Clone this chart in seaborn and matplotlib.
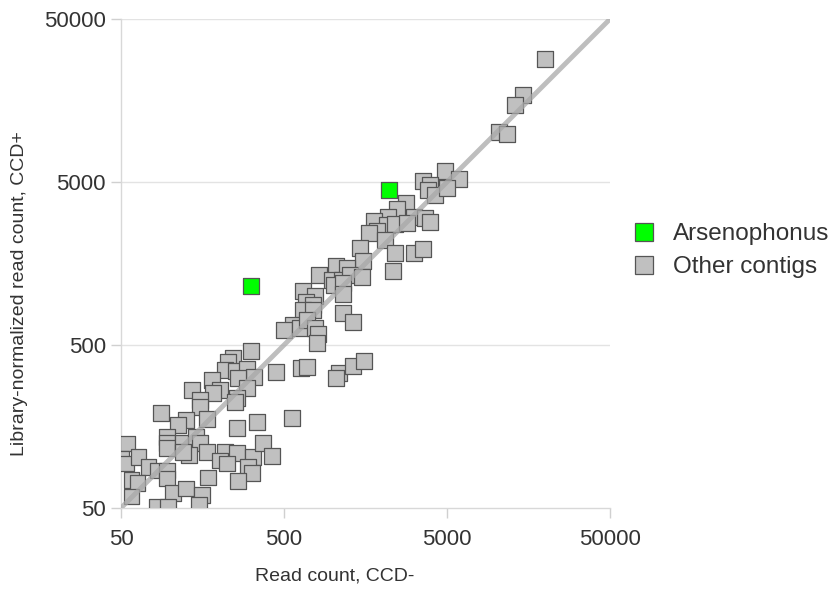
"""
Scatter of per-contig read counts, CCD- vs CCD+ (log-log).
"""
import seaborn as sns
import pandas as pd
import matplotlib.pyplot as plt
from matplotlib.ticker import FixedLocator, NullLocator

# Read counts, CCD- (x) and library-normalized read counts, CCD+ (y).
other_x = [20000, 14600, 13100, 10400, 11700, 4860, 5930, 3560, 3930, 3820,
           4220, 5000, 2800, 2470, 2170, 1780, 2140, 2400, 3140, 3660,
           3930, 2840, 1860, 1660, 2080, 2400, 3140, 3560, 1460, 1530,
           2330, 1040, 1220, 820, 985, 1135, 1270, 1510, 1010, 1150,
           1150, 654, 775, 682, 754, 654, 754, 1150, 1330, 568,
           500, 627, 692, 775, 809, 797, 447, 636, 692, 1087,
           1042, 1330, 1550, 314, 243, 227, 217, 254, 296, 327,
           181, 261, 136, 202, 183, 296, 153, 258, 250, 153,
           88, 125, 112, 169, 258, 341, 560, 96, 96, 96,
           120, 144, 153, 131, 120, 169, 55, 50, 54, 64,
           74, 84, 96, 96, 58, 63, 58, 104, 125, 157,
           151, 83, 97, 171, 217, 258, 202, 223, 323, 372,
           422, 301, 318, 261]
other_y = [28400, 17100, 14800, 10100, 9840, 5840, 5220, 5070, 4790, 4470,
           4160, 4590, 3720, 3410, 3050, 2880, 2720, 2760, 3050, 3010,
           2840, 2800, 2500, 2430, 2200, 1830, 1830, 1940, 1970, 1640,
           1420, 1530, 1480, 1340, 1250, 1250, 1340, 1310, 1170, 1200,
           1030, 1070, 1000, 918, 880, 820, 820, 785, 692, 663,
           618, 636, 712, 636, 584, 514, 341, 361, 366, 337,
           314, 372, 399, 460, 416, 393, 351, 346, 356, 318,
           305, 314, 265, 265, 254, 272, 230, 237, 223, 208,
           191, 173, 161, 176, 155, 169, 178, 136, 125, 117,
           125, 136, 125, 106, 110, 110, 124, 100, 94, 103,
           89, 85, 85, 76, 74, 71, 59, 62, 66, 60,
           52, 51, 51, 77, 110, 109, 98, 94, 103, 125,
           104, 89, 82, 73]

arseno_x = [314, 2200]
arseno_y = [1150, 4470]

groups = ["Arsenophonus", "Other contigs"]
colors = {"Arsenophonus": "#00ff00", "Other contigs": "#c0c0c0"}

ticks = [50, 500, 5000, 50000]


def build_frame():
    rows = []
    for x, y in zip(other_x, other_y):
        rows.append({"ccd_minus": x, "ccd_plus": y, "group": groups[1]})
    for x, y in zip(arseno_x, arseno_y):
        rows.append({"ccd_minus": x, "ccd_plus": y, "group": groups[0]})
    return pd.DataFrame(rows)


def gen_scatter():
    df = build_frame()

    sns.set_style("white")
    plt.rcParams["font.family"] = ["Liberation Sans", "DejaVu Sans"]

    fig = plt.figure(figsize=(8.32, 5.89), dpi=100)
    ax = fig.add_axes([0.1454, 0.1375, 0.5878, 0.8302])

    ax.set_xscale("log")
    ax.set_yscale("log")
    ax.set_xlim(50, 50000)
    ax.set_ylim(50, 50000)

    # Horizontal grid only.
    for t in ticks[1:]:
        ax.axhline(t, color="#e3e3e3", lw=1, zorder=0)

    sns.scatterplot(data=df, x="ccd_minus", y="ccd_plus", hue="group",
                    hue_order=groups, palette=colors, marker="s", s=125,
                    edgecolor="#555555", linewidth=0.9, alpha=1,
                    ax=ax, zorder=3)

    # y = x reference line.
    ax.plot([50, 50000], [50, 50000], color="#a8a8a8", lw=3.5,
            alpha=0.75, zorder=4, solid_capstyle="butt")

    ax.xaxis.set_major_locator(FixedLocator(ticks))
    ax.yaxis.set_major_locator(FixedLocator(ticks))
    ax.xaxis.set_minor_locator(NullLocator())
    ax.yaxis.set_minor_locator(NullLocator())
    ax.set_xticklabels([str(t) for t in ticks])
    ax.set_yticklabels([str(t) for t in ticks])
    ax.tick_params(axis="both", which="major", length=7, width=1,
                   color="#d0d0d0", labelsize=16, labelcolor="#333333",
                   pad=4, direction="out", left=True, bottom=True)
    ax.tick_params(axis="x", pad=8)

    for side in ["top", "right"]:
        ax.spines[side].set_visible(False)
    for side in ["left", "bottom"]:
        ax.spines[side].set_color("#d8d8d8")
        ax.spines[side].set_linewidth(1)

    ax.set_xlabel("Read count, CCD-", fontsize=14, color="#333333")
    ax.set_ylabel("Library-normalized read count, CCD+", fontsize=14,
                  color="#333333")
    ax.xaxis.set_label_coords(0.4376, -0.122)
    ax.yaxis.set_label_coords(-0.19, 0.4376)

    handles, labels = ax.get_legend_handles_labels()
    ax.legend(handles, labels, loc="center left", bbox_to_anchor=(0.975, 0.526),
              frameon=False, fontsize=17.5, labelcolor="#333333",
              handletextpad=0.2, labelspacing=0.45, markerscale=1.1)

    plt.savefig("out.png", dpi=100)


if __name__ == "__main__":
    gen_scatter()
